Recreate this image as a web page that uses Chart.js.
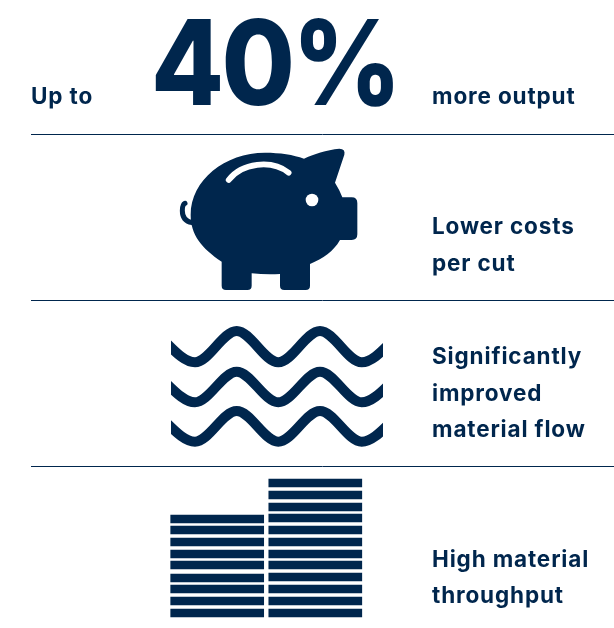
<!DOCTYPE html>
<html>
<head>
<meta charset="utf-8">
<style>html,body{margin:0;padding:0;background:#fff}canvas{display:block}</style>
<script src="https://cdn.jsdelivr.net/npm/chart.js@4"></script>
</head>
<body>
<canvas id="c" width="614" height="628"></canvas>
<script>
const NAVY = '#00264d';
// Divider rows
const dividerRows = [134.5, 300.5, 466.5];
const dividerSpan = [31, 614];
// Stacks of slabs: lower edge of each slab, measured upwards from the base
const stackColumns = [217.2, 315.3];
const leftStackSlabs = [0, 12, 24, 35, 48, 59, 71, 83, 94];
const rightStackSlabs = [0, 12, 24, 36, 48, 59, 71, 83, 95, 106, 118, 130];
const slabHeight = 8;
// Waves: crest and trough
const waveX = [153.3, 195, 236.7, 278.3, 320, 361.7, 403.3];
const wave1 = [331, 362.3, 331, 362.3, 331, 362.3, 331];
const wave2 = [371.7, 402.3, 371.7, 402.3, 371.7, 402.3, 371.7];
const wave3 = [411, 441.7, 411, 441.7, 411, 441.7, 411];
// Text
const bigLabel = ['40%'];
const labels = ['Up to', 'more output', 'Lower costs', 'per cut', 'Significantly', 'improved', 'material flow', 'High material', 'throughput'];
const labelX = [31, 432, 432, 432, 432, 432, 432, 432, 432];
const labelY = [104, 104, 234, 271, 364, 401, 437, 567, 603];

function makePig() {
  const cv = document.createElement('canvas');
  cv.width = 230; cv.height = 160;
  const g = cv.getContext('2d');
  g.scale(1 / 3, 1 / 3);
  g.fillStyle = NAVY; g.strokeStyle = NAVY; g.lineCap = 'round';
  g.beginPath();
  g.moveTo(215, 365);
  g.bezierCurveTo(155, 325, 122, 285, 122, 225);
  g.bezierCurveTo(122, 120, 225, 38, 345, 38);
  g.bezierCurveTo(390, 38, 430, 44, 462, 56);
  g.bezierCurveTo(490, 42, 530, 30, 568, 26);
  g.quadraticCurveTo(587, 26, 583, 44);
  g.lineTo(555, 128);
  g.quadraticCurveTo(568, 148, 577, 172);
  g.lineTo(605, 172);
  g.quadraticCurveTo(622, 172, 622, 189);
  g.lineTo(622, 283);
  g.quadraticCurveTo(622, 300, 605, 300);
  g.lineTo(570, 300);
  g.bezierCurveTo(550, 335, 520, 355, 480, 372);
  g.lineTo(480, 437);
  g.quadraticCurveTo(480, 450, 467, 450);
  g.lineTo(403, 450);
  g.quadraticCurveTo(390, 450, 390, 437);
  g.lineTo(390, 402);
  g.quadraticCurveTo(345, 404, 305, 400);
  g.lineTo(305, 437);
  g.quadraticCurveTo(305, 450, 292, 450);
  g.lineTo(228, 450);
  g.quadraticCurveTo(215, 450, 215, 437);
  g.closePath();
  g.fill();
  // tail
  g.lineWidth = 15;
  g.beginPath();
  g.moveTo(126, 248);
  g.quadraticCurveTo(97, 242, 97, 212);
  g.quadraticCurveTo(97, 194, 105, 190);
  g.stroke();
  // highlight and eye
  g.strokeStyle = '#fff';
  g.lineWidth = 17;
  g.beginPath();
  g.moveTo(236, 120);
  g.bezierCurveTo(275, 68, 365, 58, 416, 98);
  g.stroke();
  g.fillStyle = '#fff';
  g.beginPath();
  g.arc(486, 180, 19, 0, Math.PI * 2);
  g.fill();
  return cv;
}

const textPlugin = {
  id: 'pageText',
  afterDatasetsDraw(chart) {
    const { ctx, scales: { x, y } } = chart;
    ctx.save();
    ctx.fillStyle = NAVY;
    ctx.textBaseline = 'alphabetic';
    ctx.font = '700 22.5px Inter';
    ctx.letterSpacing = '0.85px';
    labels.forEach((t, i) => ctx.fillText(t, x.getPixelForValue(labelX[i]), y.getPixelForValue(labelY[i])));
    ctx.font = '800 118px Inter';
    ctx.letterSpacing = '-3px';
    ctx.translate(x.getPixelForValue(151), y.getPixelForValue(105));
    ctx.scale(0.9, 1);
    ctx.fillText(bigLabel[0], 0, 0);
    ctx.restore();
  }
};

const waveDataset = ys => ({
  type: 'line',
  data: ys.map((v, i) => ({ x: waveX[i], y: v })),
  borderColor: NAVY,
  borderWidth: 10,
  pointRadius: 0,
  cubicInterpolationMode: 'monotone',
  borderCapStyle: 'butt',
  clip: { left: -171, right: -231, top: 0, bottom: 0 }
});
const slabDataset = (col, slabs) => ({
  type: 'bar',
  yAxisID: 'yStack',
  data: slabs.map(v => ({ x: stackColumns[col], y: [v, v + slabHeight] })),
  backgroundColor: NAVY,
  barThickness: 93,
  grouped: false
});
const dividerDataset = row => ({
  type: 'line',
  data: dividerSpan.map(v => ({ x: v, y: row })),
  borderColor: NAVY,
  borderWidth: 1,
  pointRadius: 0
});

new Chart(document.getElementById('c'), {
  type: 'bar',
  data: {
    datasets: [
      ...dividerRows.map(dividerDataset),
      waveDataset(wave1), waveDataset(wave2), waveDataset(wave3),
      slabDataset(0, leftStackSlabs), slabDataset(1, rightStackSlabs),
      { type: 'scatter', data: [{ x: 265, y: 220 }], pointStyle: makePig(), pointRadius: 5 }
    ]
  },
  options: {
    responsive: false,
    animation: false,
    events: [],
    layout: { padding: 0, autoPadding: false },
    plugins: { legend: { display: false }, tooltip: { enabled: false }, title: { display: false } },
    scales: {
      x: { type: 'linear', min: 0, max: 614, display: false, offset: false },
      y: { type: 'linear', min: 0, max: 628, reverse: true, display: false, offset: false },
      yStack: { type: 'linear', min: -11, max: 617, display: false, offset: false }
    }
  },
  plugins: [textPlugin]
});
</script>
</body>
</html>
